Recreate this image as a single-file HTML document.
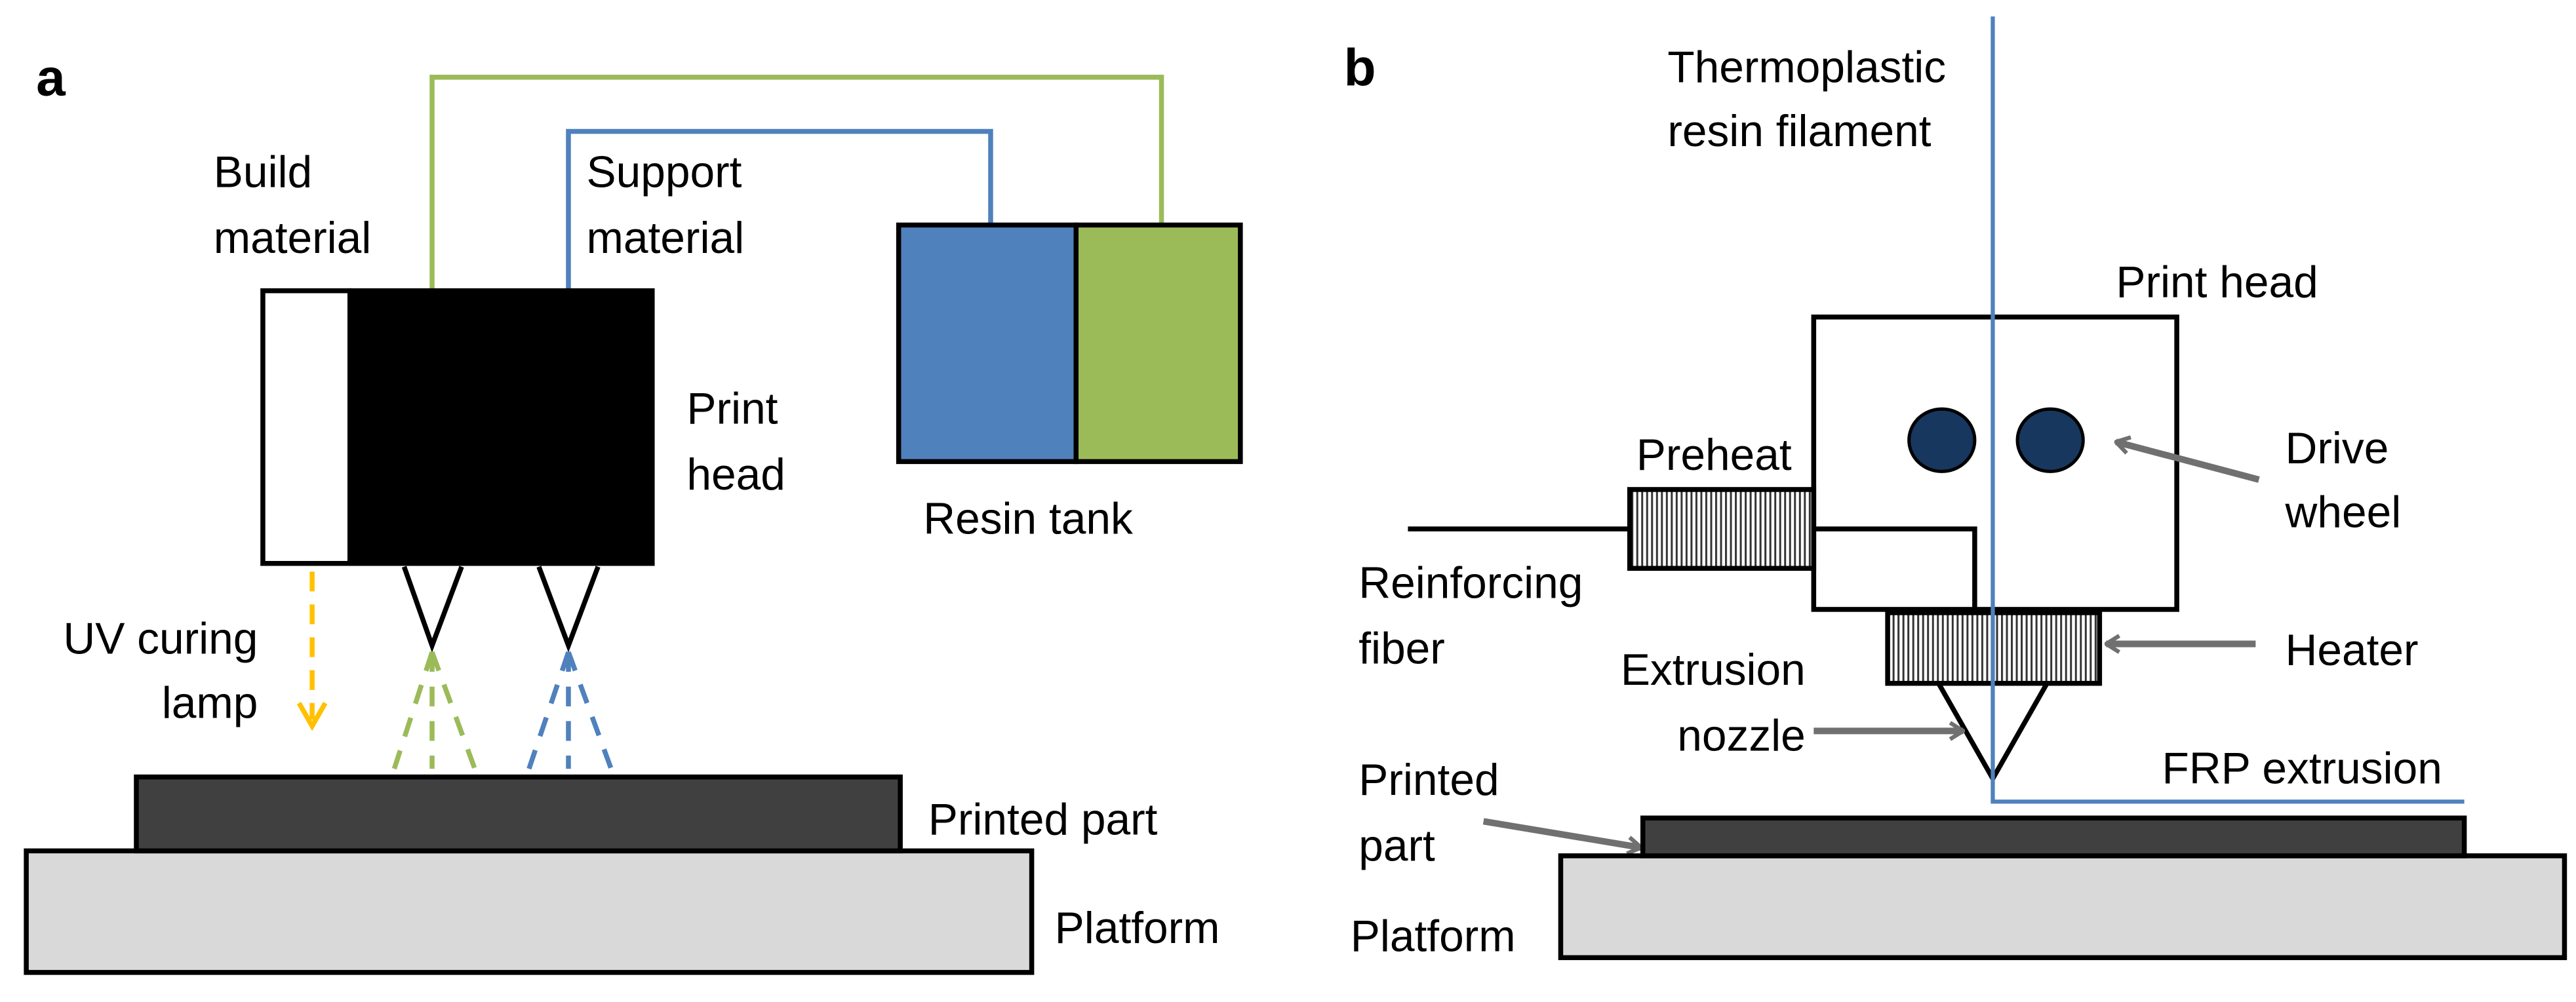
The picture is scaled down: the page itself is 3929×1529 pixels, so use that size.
<!DOCTYPE html>
<html><head><meta charset="utf-8"><style>
html,body{margin:0;padding:0;background:#fff;}
svg{display:block;}
text{font-family:"Liberation Sans",sans-serif;font-size:27px;fill:#000;}
</style></head><body>
<svg width="3929" height="1529" viewBox="0 0 1568 610" preserveAspectRatio="none" xmlns="http://www.w3.org/2000/svg">
<defs>
<pattern id="h" width="3" height="10" patternUnits="userSpaceOnUse">
<rect width="3" height="10" fill="#fff"/><rect width="1.2" height="10" fill="#333"/>
</pattern>
<marker id="ag" markerWidth="10" markerHeight="12" refX="9" refY="6" orient="auto" markerUnits="userSpaceOnUse">
<path d="M1,1 L9,6 L1,11" fill="none" stroke="#707070" stroke-width="2.5"/>
</marker>
</defs>
<!-- Panel a -->
<text x="22" y="58" style="font-weight:bold;font-size:32px">a</text>
<polyline points="263,177 263,47 707,47 707,137" fill="none" stroke="#9BBB59" stroke-width="3"/>
<polyline points="346,177 346,80 603,80 603,137" fill="none" stroke="#4F81BD" stroke-width="3"/>
<text x="130" y="114">Build</text><text x="130" y="154">material</text>
<text x="357" y="114">Support</text><text x="357" y="154">material</text>
<rect x="160" y="177" width="53" height="166" fill="#fff" stroke="#000" stroke-width="3"/>
<rect x="213" y="177" width="184" height="166" fill="#000" stroke="#000" stroke-width="3"/>
<text x="418" y="258">Print</text><text x="418" y="298">head</text>
<rect x="547" y="137" width="108" height="144" fill="#4F81BD" stroke="#000" stroke-width="3"/>
<rect x="655" y="137" width="100" height="144" fill="#9BBB59" stroke="#000" stroke-width="3"/>
<text x="562" y="325">Resin tank</text>
<polyline points="246,345 263,393 281,345" fill="none" stroke="#000" stroke-width="3"/>
<polyline points="328,345 346,393 364,345" fill="none" stroke="#000" stroke-width="3"/>
<g stroke="#9BBB59" stroke-width="3" stroke-dasharray="12,9" fill="none">
<line x1="263" y1="397" x2="240" y2="468"/><line x1="263" y1="397" x2="263" y2="468"/><line x1="263" y1="397" x2="289" y2="468"/>
</g>
<g stroke="#4F81BD" stroke-width="3" stroke-dasharray="12,9" fill="none">
<line x1="346" y1="397" x2="322" y2="468"/><line x1="346" y1="397" x2="346" y2="468"/><line x1="346" y1="397" x2="372" y2="468"/>
</g>
<line x1="190" y1="348" x2="190" y2="438" stroke="#FFC000" stroke-width="3" stroke-dasharray="12,8"/>
<polyline points="182,428 190,442 198,428" fill="none" stroke="#FFC000" stroke-width="3"/>
<text x="157" y="398" text-anchor="end">UV curing</text><text x="157" y="437" text-anchor="end">lamp</text>
<rect x="16" y="518" width="612" height="74" fill="#D9D9D9" stroke="#000" stroke-width="3"/>
<rect x="83" y="473" width="465" height="45" fill="#404040" stroke="#000" stroke-width="3"/>
<text x="565" y="508">Printed part</text>
<text x="642" y="574">Platform</text>
<!-- Panel b -->
<text x="818" y="52" style="font-weight:bold;font-size:32px">b</text>
<text x="1015" y="50">Thermoplastic</text><text x="1015" y="89">resin filament</text>
<text x="1288" y="181">Print head</text>
<rect x="1104" y="193" width="221" height="178" fill="#fff" stroke="#000" stroke-width="3"/>
<ellipse cx="1182" cy="268" rx="20" ry="19" fill="#17375E" stroke="#000" stroke-width="2"/>
<ellipse cx="1248" cy="268" rx="20" ry="19" fill="#17375E" stroke="#000" stroke-width="2"/>
<line x1="857" y1="322" x2="992" y2="322" stroke="#000" stroke-width="3"/>
<rect x="992" y="298" width="112" height="48" fill="url(#h)" stroke="#000" stroke-width="3"/>
<text x="996" y="286">Preheat</text>
<polyline points="1104,322 1202,322 1202,371" fill="none" stroke="#000" stroke-width="3"/>
<rect x="1149" y="373" width="129" height="43" fill="url(#h)" stroke="#000" stroke-width="3"/>
<polyline points="1180,416 1213,474 1246,416" fill="none" stroke="#000" stroke-width="3"/>
<polyline points="1213,10 1213,488 1500,488" fill="none" stroke="#4F81BD" stroke-width="2.5"/>
<line x1="1375" y1="292" x2="1288" y2="269" stroke="#707070" stroke-width="4" marker-end="url(#ag)"/>
<line x1="1373" y1="392" x2="1282" y2="392" stroke="#707070" stroke-width="4" marker-end="url(#ag)"/>
<line x1="1104" y1="445" x2="1195" y2="445" stroke="#707070" stroke-width="4" marker-end="url(#ag)"/>
<line x1="903" y1="500" x2="999" y2="516" stroke="#707070" stroke-width="4" marker-end="url(#ag)"/>
<text x="1391" y="282">Drive</text><text x="1391" y="321">wheel</text>
<text x="1391" y="405">Heater</text>
<text x="1099" y="417" text-anchor="end">Extrusion</text><text x="1099" y="457" text-anchor="end">nozzle</text>
<text x="827" y="364">Reinforcing</text><text x="827" y="404">fiber</text>
<text x="1316" y="477">FRP extrusion</text>
<rect x="950" y="521" width="611" height="62" fill="#D9D9D9" stroke="#000" stroke-width="3"/>
<rect x="1000" y="498" width="500" height="23" fill="#404040" stroke="#000" stroke-width="3"/>
<text x="827" y="484">Printed</text><text x="827" y="524">part</text>
<text x="822" y="579">Platform</text>
</svg>
</body></html>
